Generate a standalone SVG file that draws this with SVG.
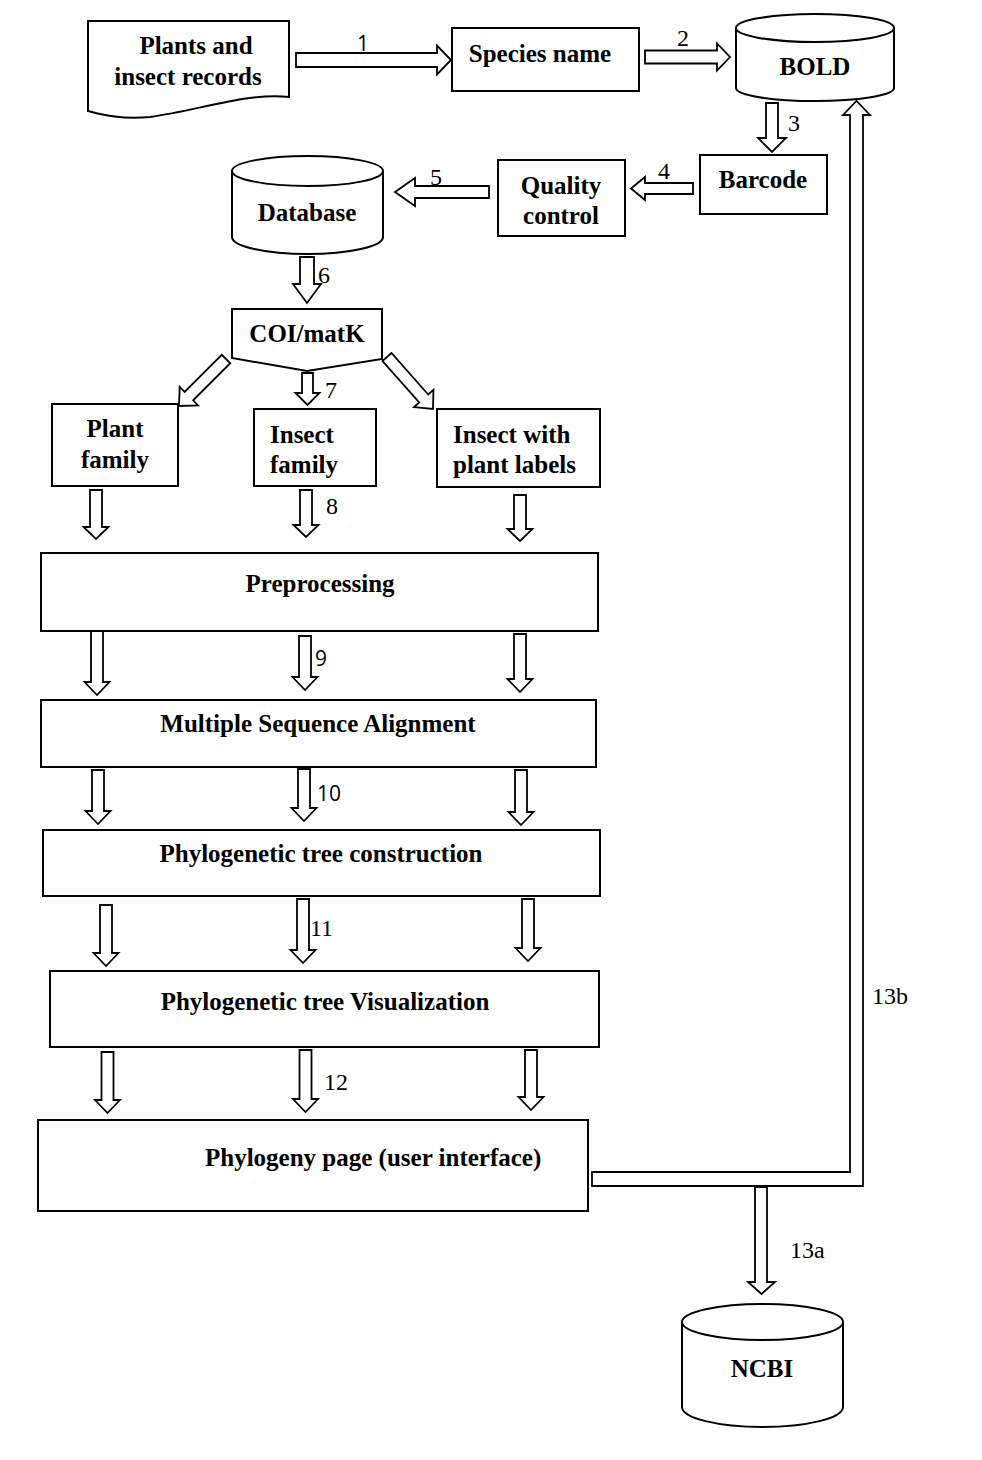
<svg xmlns="http://www.w3.org/2000/svg" width="982" height="1460" viewBox="0 0 982 1460">
<style>
.s{fill:#fff;stroke:#000;stroke-width:2}
.a{fill:#fff;stroke:#000;stroke-width:1.8;stroke-linejoin:miter}
.t{font-family:"Liberation Serif","Times New Roman",serif;font-weight:bold;font-size:25px;fill:#000}
.c{text-anchor:middle}
.n{font-family:"Liberation Serif","Times New Roman",serif;font-size:24px;fill:#000}
.ns{font-family:"Open Sans","Liberation Sans",sans-serif;font-size:21px;fill:#000}
</style>
<rect width="982" height="1460" fill="#fff"/>
<g id="connectors">
<polygon class="a" points="296,53 437,53 437,45.5 451,60 437,74.5 437,67 296,67"/>
<polygon class="a" points="645,50.5 717,50.5 717,43.5 730,57 717,70.5 717,63.5 645,63.5"/>
<polygon class="a" points="766,103 778,103 778,138 786,138 772,152 758,138 766,138"/>
<polygon class="a" points="693,183 645,183 645,177 631,188.5 645,200 645,194 693,194"/>
<polygon class="a" points="489,186 415,186 415,178 395,192 415,206 415,198 489,198"/>
<polygon class="a" points="300,257 314,257 314,284 321,284 307,303 293,284 300,284"/>
<polygon class="a" points="302,373 313,373 313,393 319.5,393 307.5,405 295.5,393 302,393"/>
<polygon class="a" transform="translate(226,359) rotate(45)" points="-6,0 6,0 6,52.5 13,52.5 0,66.5 -13,52.5 -6,52.5"/>
<polygon class="a" transform="translate(387,357) rotate(-41.5)" points="-6,0 6,0 6,55.4 13,55.4 0,69.4 -13,55.4 -6,55.4"/>
<polygon class="a" points="90,490 102,490 102,527 108.5,527 96,539 83.5,527 90,527"/>
<polygon class="a" points="300,490 312,490 312,525 318.5,525 306,537 293.5,525 300,525"/>
<polygon class="a" points="514,495 526,495 526,529 532.5,529 520,541 507.5,529 514,529"/>
<polygon class="a" points="91,631 103,631 103,682 109.5,682 97,695 84.5,682 91,682"/>
<polygon class="a" points="299,636 311,636 311,677 317.5,677 305,690 292.5,677 299,677"/>
<polygon class="a" points="514,634 526,634 526,679 532.5,679 520,692 507.5,679 514,679"/>
<polygon class="a" points="92,770 104,770 104,811 110.5,811 98,824 85.5,811 92,811"/>
<polygon class="a" points="298,769 310,769 310,808 316.5,808 304,821 291.5,808 298,808"/>
<polygon class="a" points="515,770 527,770 527,812 533.5,812 521,825 508.5,812 515,812"/>
<polygon class="a" points="100,905 112,905 112,953 118.5,953 106,966 93.5,953 100,953"/>
<polygon class="a" points="297,899 309,899 309,950 315.5,950 303,963 290.5,950 297,950"/>
<polygon class="a" points="522,899 534,899 534,948 540.5,948 528,961 515.5,948 522,948"/>
<polygon class="a" points="101.5,1052 113.5,1052 113.5,1100 120,1100 107.5,1113 95,1100 101.5,1100"/>
<polygon class="a" points="299.5,1050 311.5,1050 311.5,1099 318,1099 305.5,1112 293,1099 299.5,1099"/>
<polygon class="a" points="525,1050 537,1050 537,1097 543.5,1097 531,1110 518.5,1097 525,1097"/>
<polygon class="a" points="592,1186 863,1186 863,115 870,115 856.5,101 843,115 850,115 850,1172 592,1172"/>
<polygon class="a" points="755,1187 767,1187 767,1282 775,1282 761.5,1294 748,1282 755,1282"/>
<text class="ns" x="357" y="51" font-size="15">1</text>
<text class="n" x="677" y="46">2</text>
<text class="n" x="788" y="131">3</text>
<text class="n" x="658" y="179">4</text>
<text class="n" x="430" y="185">5</text>
<text class="n" x="318" y="283">6</text>
<text class="n" x="325" y="398">7</text>
<text class="n" x="326" y="514">8</text>
<text class="ns" x="315" y="666">9</text>
<text class="ns" x="317" y="801">10</text>
<text class="n" x="310" y="936">11</text>
<text class="n" x="324" y="1090">12</text>
<text class="n" x="872" y="1004">13b</text>
<text class="n" x="790" y="1258">13a</text>
</g>
<g id="records">
<path class="s" d="M88,21 H289 V97 C250,92 200,110 150,117 C120,120 100,114 88,111 Z"/>
<text class="t c" x="196" y="54">Plants and</text>
<text class="t c" x="188" y="85">insect records</text>
</g>
<g id="species">
<rect class="s" x="452" y="28" width="187" height="63"/>
<text class="t c" x="540" y="62">Species name</text>
</g>
<g id="bold">
<path class="s" d="M736,28 A79,14 0 0,1 894,28 V88 A79,13 0 0,1 736,88 Z"/>
<path class="s" fill="none" d="M736,28 A79,14 0 0,0 894,28"/>
<text class="t c" x="815" y="75">BOLD</text>
</g>
<g id="barcode">
<rect class="s" x="700" y="155" width="127" height="59"/>
<text class="t c" x="763" y="188">Barcode</text>
</g>
<g id="quality">
<rect class="s" x="498" y="160" width="127" height="76"/>
<text class="t c" x="561" y="194">Quality</text>
<text class="t c" x="561" y="224">control</text>
</g>
<g id="database">
<path class="s" d="M232,171 A75.5,15 0 0,1 383,171 V237 A75.5,17 0 0,1 232,237 Z"/>
<path class="s" fill="none" d="M232,171 A75.5,15 0 0,0 383,171"/>
<text class="t c" x="307" y="221">Database</text>
</g>
<g id="coimatk">
<polygon class="s" points="232,309 382,309 382,359 307,371 232,358"/>
<text class="t c" x="307" y="342">COI/matK</text>
</g>
<g id="plantfamily">
<rect class="s" x="52" y="404" width="126" height="82"/>
<text class="t c" x="115" y="437">Plant</text>
<text class="t c" x="115" y="468">family</text>
</g>
<g id="insectfamily">
<rect class="s" x="254" y="409" width="122" height="77"/>
<text class="t" x="270" y="443">Insect</text>
<text class="t" x="270" y="473">family</text>
</g>
<g id="insectplant">
<rect class="s" x="437" y="409" width="163" height="78"/>
<text class="t" x="453" y="443">Insect with</text>
<text class="t" x="453" y="473">plant labels</text>
</g>
<g id="preprocessing">
<rect class="s" x="41" y="553" width="557" height="78"/>
<text class="t c" x="320" y="592">Preprocessing</text>
</g>
<g id="msa">
<rect class="s" x="41" y="700" width="555" height="67"/>
<text class="t c" x="318" y="732">Multiple Sequence Alignment</text>
</g>
<g id="treeconstruction">
<rect class="s" x="43" y="830" width="557" height="66"/>
<text class="t c" x="321" y="862">Phylogenetic tree construction</text>
</g>
<g id="treevisualization">
<rect class="s" x="50" y="971" width="549" height="76"/>
<text class="t c" x="325" y="1010">Phylogenetic tree Visualization</text>
</g>
<g id="phylogenypage">
<rect class="s" x="38" y="1120" width="550" height="91"/>
<text class="t" x="205" y="1166">Phylogeny page (user interface)</text>
</g>
<g id="ncbi">
<path class="s" d="M682,1322 A80.5,18 0 0,1 843,1322 V1407 A80.5,20 0 0,1 682,1407 Z"/>
<path class="s" fill="none" d="M682,1322 A80.5,18 0 0,0 843,1322"/>
<text class="t c" x="762" y="1377">NCBI</text>
</g>
</svg>
